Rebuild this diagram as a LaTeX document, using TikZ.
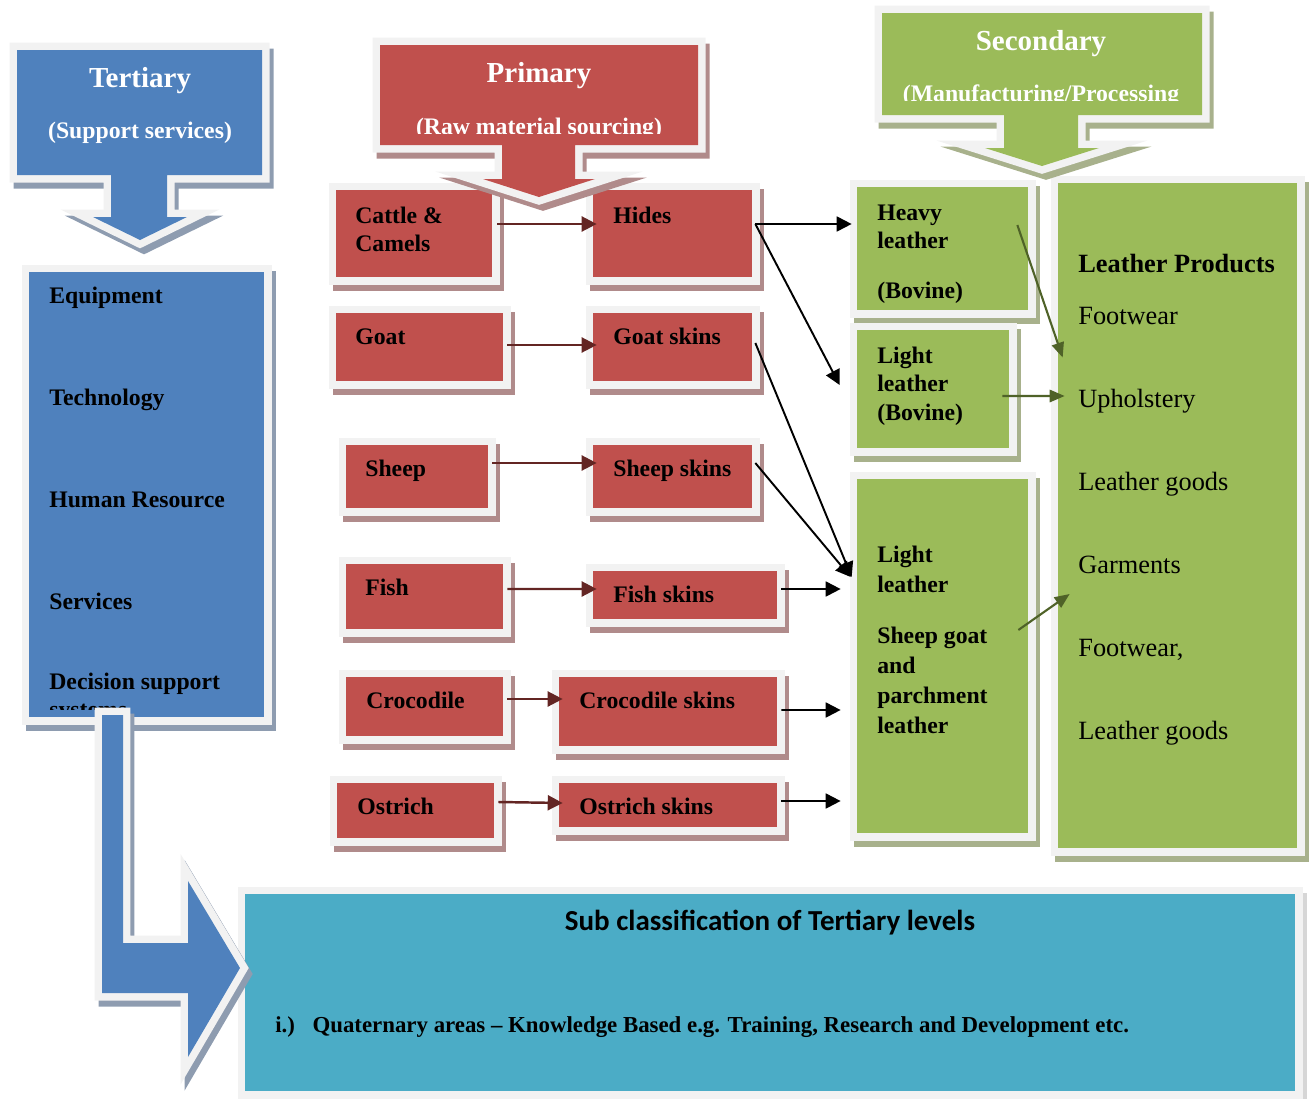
\documentclass[tikz,border=0pt]{standalone}
\usepackage{fontspec}
\setmainfont{Liberation Serif}
\newfontfamily\calibfont{Carlito}
\usetikzlibrary{arrows.meta, fit}

\definecolor{tblue}{HTML}{4F81BD}
\definecolor{tred}{HTML}{C0504D}
\definecolor{tgreen}{HTML}{9BBB59}
\definecolor{tteal}{HTML}{4BACC6}
\definecolor{rim}{HTML}{F2F2F2}
\definecolor{sblue}{HTML}{8E9CB0}
\definecolor{sred}{HTML}{B08B8B}
\definecolor{sgreen}{HTML}{A8B18C}
\definecolor{steal}{HTML}{D6D6D6}
\definecolor{darrow}{HTML}{632523}
\definecolor{garrow}{HTML}{4F6228}

\tikzset{
  panel/.style 2 args={fill=#1, inner sep=0pt,
    preaction={fill=#2, draw=#2, line width=0.3cm, transform canvas={shift={(4,6)}}},
    preaction={draw=rim, line width=0.3cm}},
  rbox/.style={panel={tred}{sred}},
  gbox/.style={panel={tgreen}{sgreen}},
  bbox/.style={panel={tblue}{sblue}},
  tbox/.style={panel={tteal}{steal}}
}

\begin{document}
\begin{tikzpicture}[x=0.02cm, y=-0.02cm,
  lab/.style={inner sep=0pt, anchor=north west, align=left, font=\fontsize{13.5}{16}\selectfont\bfseries},
  prod/.style={inner sep=0pt, anchor=north west, align=left},
  head/.style={inner sep=0pt, anchor=base, text=white, font=\fontsize{16.5}{20}\selectfont\bfseries},
  sub/.style={inner sep=0pt, anchor=base, text=white, font=\fontsize{13.5}{16}\selectfont\bfseries},
  rarr/.style={draw=darrow, line width=1.4pt, -{Triangle[length=8.5pt, width=8.5pt]}},
  karr/.style={draw=black, line width=1.1pt, -{Triangle[length=8.5pt, width=8.5pt]}},
  garr/.style={draw=garrow, line width=1.2pt, -{Triangle[length=8.5pt, width=7pt]}}]
  \useasboundingbox (0,0) rectangle (1309,1099);

  % bottom box
  \node[tbox, fit={(245,894) (1295,1091)}] (subc) {};
  \node[anchor=base, inner sep=0pt, font=\calibfont\fontsize{16.5}{20}\selectfont\bfseries] (t-subc) at (770,930) {Sub classification of Tertiary levels};
  \node[anchor=base west, inner sep=0pt, font=\fontsize{13}{16}\selectfont\bfseries] (t-quat) at (275,1032) {i.)\hspace{10pt}Quaternary areas – Knowledge Based e.g. Training, Research and Development etc.};

  % tertiary
  \node[bbox, fit={(29,272) (264,717)}] (list) {};
  \node[lab, font=\fontsize{13.5}{58}\selectfont\bfseries] (t-list) at (49,287) {Equipment\\Technology\\Human Resource\\Services\\[-12.5pt]Decision support};
  \begin{scope}
    \clip (29,660) rectangle (264,709);
    \node[inner sep=0pt, anchor=base west, font=\fontsize{13.5}{16}\selectfont\bfseries] (t-sys) at (49,717) {systems};
  \end{scope}
  \path[bbox] (17,50) -- (262,50) -- (262,175) -- (167,175) -- (167,217) -- (187,217)
    -- (140,240) -- (93,217) -- (111,217) -- (111,175) -- (17,175) -- cycle;
  \node[head] (t-tert) at (140,87) {Tertiary};
  \node[sub] (t-supp) at (140,138) {(Support services)};
  \path[bbox] (102,715) -- (123,715) -- (123,943) -- (188,943) -- (188,881) -- (240,968)
    -- (188,1057) -- (188,993) -- (102,993) -- cycle;

  % primary
  \node[rbox, fit={(336,190) (492,277)}] (cattle) {};
  \node[rbox, fit={(593,190) (752,277)}] (hides) {};
  \node[rbox, fit={(336,313) (503,381)}] (goat) {};
  \node[rbox, fit={(593,313) (752,381)}] (goatsk) {};
  \node[rbox, fit={(346,445) (488,508)}] (sheep) {};
  \node[rbox, fit={(593,445) (752,508)}] (sheepsk) {};
  \node[rbox, fit={(346,564) (503,629)}] (fish) {};
  \node[rbox, fit={(593,571) (777,619)}] (fishsk) {};
  \node[rbox, fit={(346,677) (503,736)}] (croc) {};
  \node[rbox, fit={(559,677) (777,746)}] (crocsk) {};
  \node[rbox, fit={(337,783) (494,838)}] (ostrich) {};
  \node[rbox, fit={(559,783) (777,827)}] (ostrichsk) {};
  \draw[rarr] ([shift={(5,-9.5)}]cattle.east) -- ([shift={(4,-9.5)}]hides.west);
  \draw[rarr] ([shift={(4,-2)}]goat.east) -- ([shift={(4,-2)}]goatsk.west);
  \draw[rarr] ([shift={(4,-13.5)}]sheep.east) -- ([shift={(4,-13.5)}]sheepsk.west);
  \draw[rarr] ([shift={(4,-7.5)}]fish.east) -- ([shift={(4,-6)}]fishsk.west);
  \draw[rarr] ([shift={(4,-7.5)}]croc.east) -- ([shift={(4,-12.5)}]crocsk.west);
  \draw[rarr] ([shift={(4,-8.5)}]ostrich.east) -- ([shift={(4,-2)}]ostrichsk.west);
  \path[rbox] (380,45) -- (698,45) -- (698,145) -- (575,145) -- (575,179) -- (595,179)
    -- (539,197) -- (483,179) -- (502,179) -- (502,145) -- (380,145) -- cycle;
  \node[head] (t-prim) at (539,82) {Primary};
  \begin{scope}
    \clip (380,45) rectangle (698,133);
    \node[sub] (t-raw) at (539,134) {(Raw material sourcing)};
  \end{scope}
  \node[lab] (t-cattle) at (355,207) {Cattle \&\\Camels};
  \node[lab] (t-hides) at (613,207) {Hides};
  \node[lab] (t-goat) at (355,328) {Goat};
  \node[lab] (t-goatsk) at (613,328) {Goat skins};
  \node[lab] (t-sheep) at (365,460) {Sheep};
  \node[lab] (t-sheepsk) at (613,460) {Sheep skins};
  \node[lab] (t-fish) at (365,579) {Fish};
  \node[lab] (t-fishsk) at (613,586) {Fish skins};
  \node[lab] (t-croc) at (366,692) {Crocodile};
  \node[lab] (t-crocsk) at (579,692) {Crocodile skins};
  \node[lab] (t-ostrich) at (357,798) {Ostrich};
  \node[lab] (t-ostrichsk) at (579,798) {Ostrich skins};

  % secondary
  \node[gbox, fit={(857,187) (1028,310)}] (heavy) {};
  \node[gbox, fit={(857,330) (1009,448)}] (lightb) {};
  \node[gbox, fit={(857,479) (1028,833)}] (lights) {};
  \node[gbox, fit={(1058,183) (1297,848)}] (prod) {};
  \path[gbox] (882,13) -- (1202,13) -- (1202,115) -- (1078,115) -- (1078,148) -- (1099,148)
    -- (1042,166) -- (985,148) -- (1004,148) -- (1004,115) -- (882,115) -- cycle;
  \node[head] (t-sec) at (1041,50) {Secondary};
  \begin{scope}
    \clip (882,13) rectangle (1202,100);
    \node[sub] (t-manu) at (1041,101) {(Manufacturing/Processing};
  \end{scope}
  \node[lab] (t-heavy) at (877,205) {Heavy\\leather\\[12pt](Bovine)};
  \node[lab] (t-lightb) at (877,347) {Light\\leather\\(Bovine)};
  \node[lab, font=\fontsize{13.5}{17}\selectfont\bfseries] (t-lights) at (877,546) {Light\\leather\\[12pt]Sheep goat\\and\\parchment\\leather};
  \node[prod, font=\fontsize{15}{18}\selectfont\bfseries] (t-prod) at (1078,254) {Leather Products};
  \node[prod, font=\fontsize{15}{47.2}\selectfont] (t-items) at (1078,307) {Footwear\\Upholstery\\Leather goods\\Garments\\Footwear,\\Leather goods};

  \draw[karr] ([shift={(3,-9.5)}]hides.east) -- ([shift={(-5,-24.5)}]heavy.west);
  \draw[karr] ([shift={(3,-9.5)}]hides.east) -- ([shift={(-17,-4)}]lightb.west);
  \draw[karr] ([shift={(3,-4)}]goatsk.east) -- ([shift={(-5,-79)}]lights.west);
  \draw[karr] ([shift={(3,-13.5)}]sheepsk.east) -- ([shift={(-6,-79)}]lights.west);
  \draw[karr] ([shift={(4,-6)}]fishsk.east) -- ([shift={(-16,-67)}]lights.west);
  \draw[karr] ([shift={(4,-1.5)}]crocsk.east) -- ([shift={(-16,54)}]lights.west);
  \draw[karr] ([shift={(4,-4)}]ostrichsk.east) -- ([shift={(-16,145)}]lights.west);
  \draw[garr] ([shift={(-11,-23.5)}]heavy.east) -- ([shift={(5,-158)}]prod.west);
  \draw[garr] ([shift={(-7,7)}]lightb.east) -- ([shift={(7,-119.5)}]prod.west);
  \draw[garr] ([shift={(-10,-26)}]lights.east) -- ([shift={(12,78.5)}]prod.west);
\end{tikzpicture}
\end{document}
